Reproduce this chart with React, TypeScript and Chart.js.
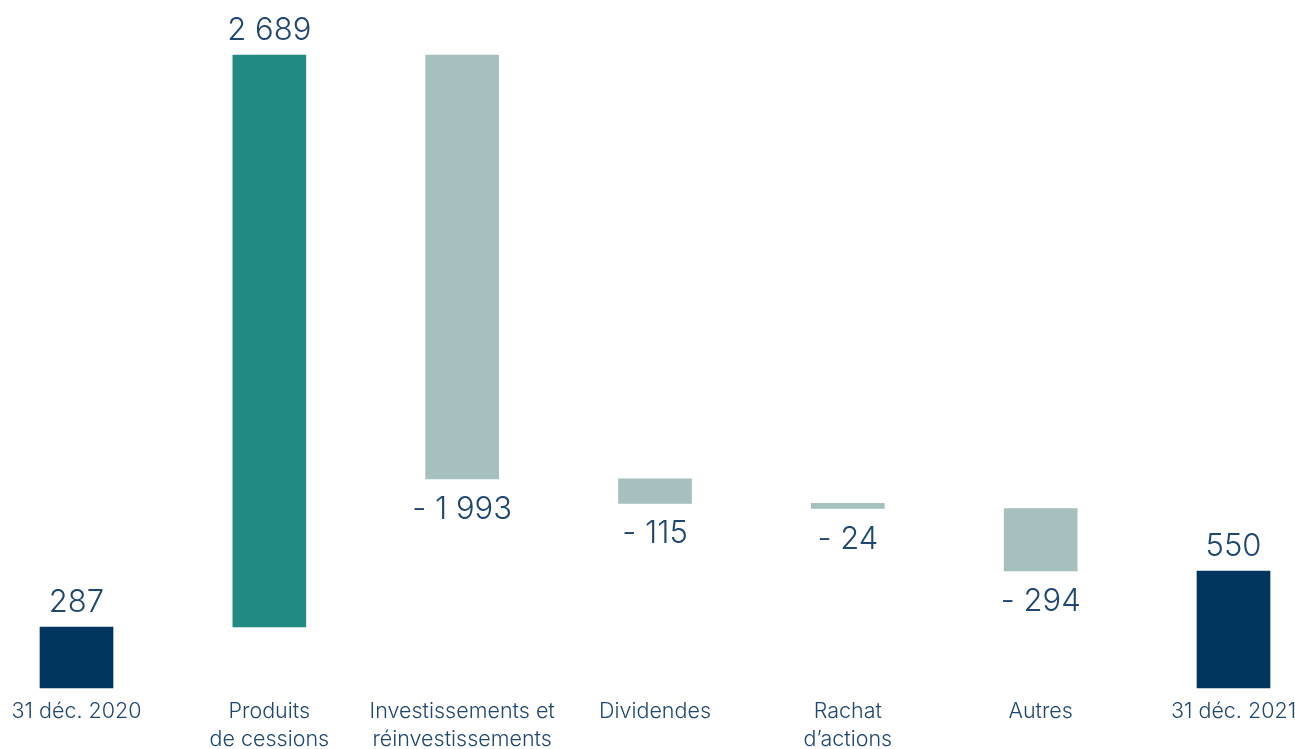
import React, { useEffect, useRef } from "react";
import { Chart, registerables } from "chart.js";

Chart.register(...registerables);

const categories: string[][] = [
  ["31 déc. 2020"],
  ["Produits", "de cessions"],
  ["Investissements et", "réinvestissements"],
  ["Dividendes"],
  ["Rachat", "d’actions"],
  ["Autres"],
  ["31 déc. 2021"],
];
const values: number[] = [287, 2689, -1993, -115, -24, -294, 550];
const isTotal: boolean[] = [true, false, false, false, false, false, true];

const COLOR_TOTAL = "#00365e";
const COLOR_UP = "#218a83";
const COLOR_DOWN = "#a6bfbf";
const TEXT = "#1f4770";
const FONT = "Inter";

function fmt(v: number, total: boolean): string {
  const s = String(Math.abs(v)).replace(/\B(?=(\d{3})+(?!\d))/g, " ");
  if (total) return s;
  return v < 0 ? "- " + s : s;
}

export default function App() {
  const ref = useRef<HTMLCanvasElement | null>(null);

  useEffect(() => {
    document.body.style.margin = "0";
    const ranges: [number, number][] = [];
    let run = 0;
    values.forEach((v, i) => {
      if (isTotal[i]) {
        ranges.push([0, v]);
        run = v;
      } else {
        ranges.push([run, run + v]);
        run += v;
      }
    });
    const colors = values.map((v, i) =>
      isTotal[i] ? COLOR_TOTAL : v >= 0 ? COLOR_UP : COLOR_DOWN
    );

    const labelPlugin = {
      id: "valueLabels",
      afterDatasetsDraw(chart: any) {
        const ctx = chart.ctx;
        const meta = chart.getDatasetMeta(0);
        ctx.save();
        ctx.font = `300 31px ${FONT}`;
        ctx.fillStyle = TEXT;
        ctx.textAlign = "center";
        ctx.textBaseline = "alphabetic";
        meta.data.forEach((bar: any, i: number) => {
          const v = values[i];
          const top = Math.min(bar.y, bar.base);
          const bottom = Math.max(bar.y, bar.base);
          const text = fmt(v, isTotal[i]);
          if (v >= 0) {
            ctx.fillText(text, bar.x, top - 15);
          } else {
            ctx.fillText(text, bar.x, bottom + 40);
          }
        });
        ctx.restore();
      },
    };

    const chart = new Chart(ref.current as HTMLCanvasElement, {
      type: "bar",
      data: {
        labels: categories,
        datasets: [
          {
            data: ranges as any,
            backgroundColor: colors,
            borderWidth: 0,
            barThickness: 73,
            clip: false as any,
          },
        ],
      },
      options: {
        animation: false,
        responsive: false,
        maintainAspectRatio: false,
        layout: { padding: { left: 76.5, right: 61.5, top: 0, bottom: 0 } },
        plugins: {
          legend: { display: false },
          tooltip: { enabled: false },
        },
        scales: {
          x: {
            offset: false,
            grid: { display: false, drawTicks: false },
            border: { display: false },
            ticks: {
              autoSkip: false,
              maxRotation: 0,
              minRotation: 0,
              padding: 10,
              color: TEXT,
              font: { family: FONT, size: 21.5, weight: "300" as any, lineHeight: 1.3 },
            },
            afterFit(scale: any) {
              scale.height = 61;
              scale.paddingLeft = 0;
              scale.paddingRight = 0;
            },
          },
          y: {
            display: false,
            min: 0,
            max: 3235,
          },
        },
      },
      plugins: [labelPlugin],
    });
    return () => chart.destroy();
  }, []);

  return (
    <div style={{ position: "relative", width: 1295, height: 749 }}>
      <canvas ref={ref} width={1295} height={749} style={{ display: "block" }} />
    </div>
  );
}
